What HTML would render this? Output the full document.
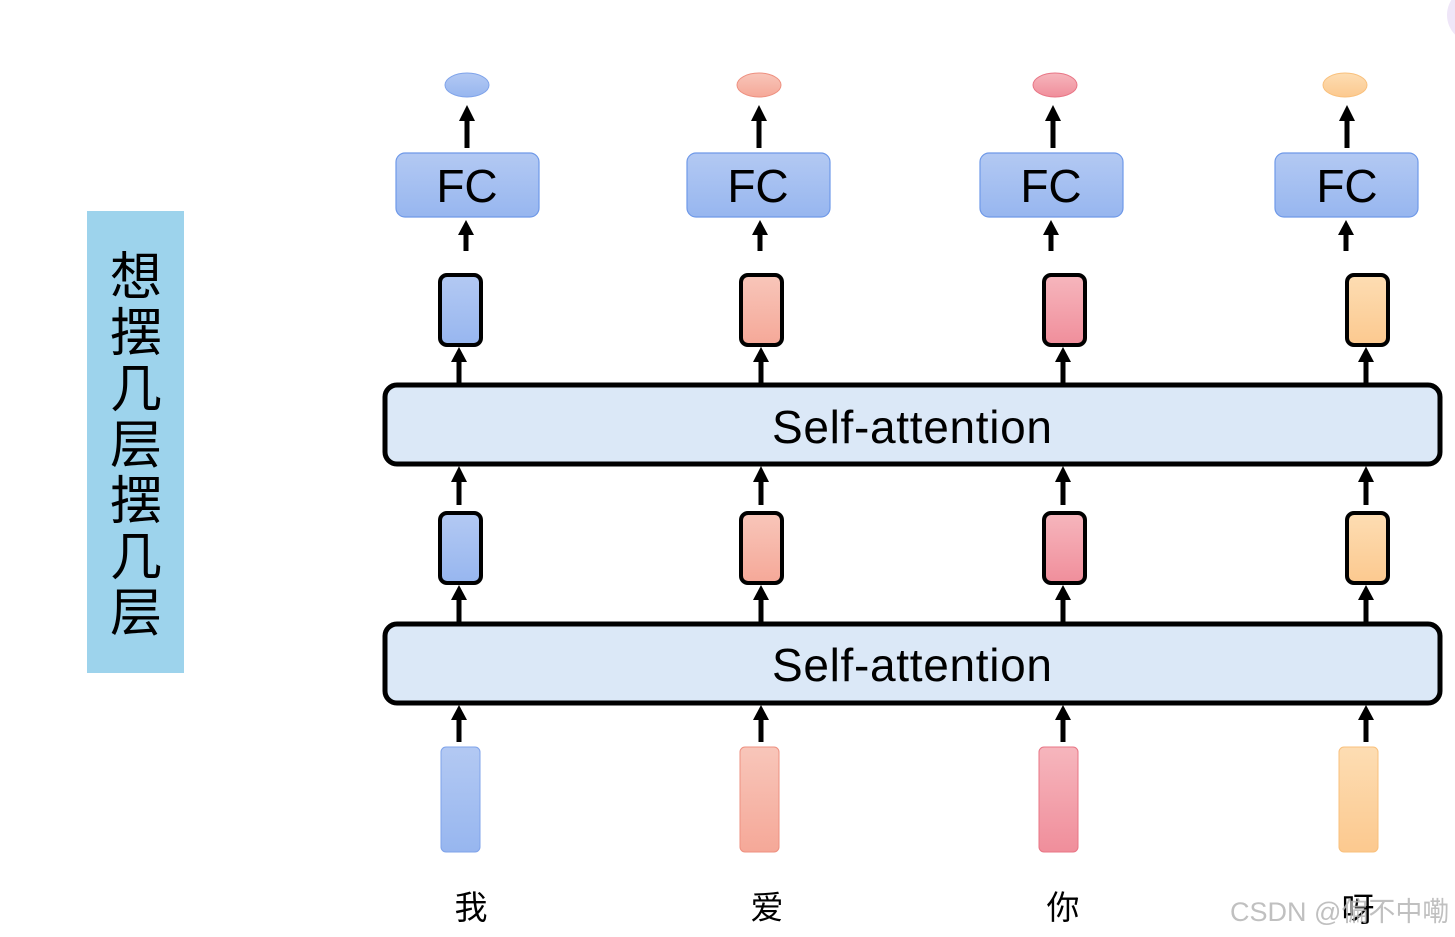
<!DOCTYPE html>
<html><head><meta charset="utf-8"><style>
html,body{margin:0;padding:0;background:#fff;}
svg{display:block;}
</style></head><body>
<svg width="1455" height="937" viewBox="0 0 1455 937" xmlns="http://www.w3.org/2000/svg">
<defs>
<linearGradient id="gb" x1="0" y1="0" x2="0" y2="1"><stop offset="0" stop-color="#b3c9f3"/><stop offset="1" stop-color="#97b6ef"/></linearGradient>
<linearGradient id="gs" x1="0" y1="0" x2="0" y2="1"><stop offset="0" stop-color="#f8c6ba"/><stop offset="1" stop-color="#f5a898"/></linearGradient>
<linearGradient id="gp" x1="0" y1="0" x2="0" y2="1"><stop offset="0" stop-color="#f6b6bd"/><stop offset="1" stop-color="#f08e9b"/></linearGradient>
<linearGradient id="go" x1="0" y1="0" x2="0" y2="1"><stop offset="0" stop-color="#fdddb3"/><stop offset="1" stop-color="#fcc98f"/></linearGradient>
<marker id="ah" viewBox="0 0 16 15" refX="8" refY="0" markerWidth="16" markerHeight="15" markerUnits="userSpaceOnUse" orient="auto-start-reverse"></marker>
</defs>
<circle cx="1475" cy="15" r="28" fill="#efe6f8"/>
<rect x="87" y="211" width="97" height="462" fill="#9dd3ec"/>
<g font-family="'Liberation Sans','Noto Sans CJK SC',sans-serif" font-size="52" text-anchor="middle" fill="#000">
<text x="136" y="295">想</text><text x="136" y="351">摆</text><text x="136" y="407">几</text><text x="136" y="463">层</text><text x="136" y="519">摆</text><text x="136" y="575">几</text><text x="136" y="631">层</text>
</g>
<!-- ellipses -->
<ellipse cx="467" cy="85" rx="22" ry="12" fill="url(#gb)" stroke="#7fa3ea"/>
<ellipse cx="759" cy="85" rx="22" ry="12" fill="url(#gs)" stroke="#ee9080"/>
<ellipse cx="1055" cy="85" rx="22" ry="12" fill="url(#gp)" stroke="#e87585"/>
<ellipse cx="1345" cy="85" rx="22" ry="12" fill="url(#go)" stroke="#f9c07c"/>
<!-- FC boxes -->
<g stroke="#6f99e8" stroke-width="1.2" fill="url(#gb)">
<rect x="396" y="153" width="143" height="64" rx="9"/>
<rect x="687" y="153" width="143" height="64" rx="9"/>
<rect x="980" y="153" width="143" height="64" rx="9"/>
<rect x="1275" y="153" width="143" height="64" rx="9"/>
</g>
<g font-family="'Liberation Sans',sans-serif" font-size="46" text-anchor="middle" fill="#000">
<text x="467" y="202">FC</text><text x="758" y="202">FC</text><text x="1051" y="202">FC</text><text x="1347" y="202">FC</text>
</g>
<!-- self attention -->
<g stroke="#000" stroke-width="5" fill="#dbe8f7">
<rect x="385" y="385" width="1055" height="79" rx="12"/>
<rect x="385" y="624" width="1055" height="79" rx="12"/>
</g>
<g font-family="'Liberation Sans',sans-serif" font-size="46" fill="#000">
<text x="772" y="443" textLength="280">Self-attention</text>
<text x="772" y="681" textLength="280">Self-attention</text>
</g>
<!-- small boxes -->
<g stroke="#000" stroke-width="4">
<rect x="440" y="275" width="41" height="70" rx="7" fill="url(#gb)"/>
<rect x="741" y="275" width="41" height="70" rx="7" fill="url(#gs)"/>
<rect x="1044" y="275" width="41" height="70" rx="7" fill="url(#gp)"/>
<rect x="1347" y="275" width="41" height="70" rx="7" fill="url(#go)"/>
<rect x="440" y="513" width="41" height="70" rx="7" fill="url(#gb)"/>
<rect x="741" y="513" width="41" height="70" rx="7" fill="url(#gs)"/>
<rect x="1044" y="513" width="41" height="70" rx="7" fill="url(#gp)"/>
<rect x="1347" y="513" width="41" height="70" rx="7" fill="url(#go)"/>
</g>
<!-- inputs -->
<rect x="441" y="747" width="39" height="105" rx="5" fill="url(#gb)" stroke="#7fa3ea"/>
<rect x="740" y="747" width="39" height="105" rx="5" fill="url(#gs)" stroke="#ee9080"/>
<rect x="1039" y="747" width="39" height="105" rx="5" fill="url(#gp)" stroke="#e87585"/>
<rect x="1339" y="747" width="39" height="105" rx="5" fill="url(#go)" stroke="#f9c07c"/>
<!-- arrows -->
<g fill="#000">
<!-- arrow helper: shaft + head -->
<!-- top arrows FC->ellipse -->
<g id="a"></g>
</g>
<g stroke="#000" stroke-width="5">
<line x1="467" y1="148" x2="467" y2="118"/><line x1="759" y1="148" x2="759" y2="118"/><line x1="1053" y1="148" x2="1053" y2="118"/><line x1="1347" y1="148" x2="1347" y2="118"/>
<line x1="466" y1="251" x2="466" y2="232"/><line x1="760" y1="251" x2="760" y2="232"/><line x1="1051" y1="251" x2="1051" y2="232"/><line x1="1346" y1="251" x2="1346" y2="232"/>
<line x1="459" y1="383" x2="459" y2="360"/><line x1="761" y1="383" x2="761" y2="360"/><line x1="1063" y1="383" x2="1063" y2="360"/><line x1="1366" y1="383" x2="1366" y2="360"/>
<line x1="459" y1="505" x2="459" y2="480"/><line x1="761" y1="505" x2="761" y2="480"/><line x1="1063" y1="505" x2="1063" y2="480"/><line x1="1366" y1="505" x2="1366" y2="480"/>
<line x1="459" y1="622" x2="459" y2="598"/><line x1="761" y1="622" x2="761" y2="598"/><line x1="1063" y1="622" x2="1063" y2="598"/><line x1="1366" y1="622" x2="1366" y2="598"/>
<line x1="459" y1="742" x2="459" y2="718"/><line x1="761" y1="742" x2="761" y2="718"/><line x1="1063" y1="742" x2="1063" y2="718"/><line x1="1366" y1="742" x2="1366" y2="718"/>
</g>
<g fill="#000">
<path d="M467 105 l-8 16 h16z"/><path d="M759 105 l-8 16 h16z"/><path d="M1053 105 l-8 16 h16z"/><path d="M1347 105 l-8 16 h16z"/>
<path d="M466 220 l-8 15 h16z"/><path d="M760 220 l-8 15 h16z"/><path d="M1051 220 l-8 15 h16z"/><path d="M1346 220 l-8 15 h16z"/>
<path d="M459 347 l-8 15 h16z"/><path d="M761 347 l-8 15 h16z"/><path d="M1063 347 l-8 15 h16z"/><path d="M1366 347 l-8 15 h16z"/>
<path d="M459 466 l-8 16 h16z"/><path d="M761 466 l-8 16 h16z"/><path d="M1063 466 l-8 16 h16z"/><path d="M1366 466 l-8 16 h16z"/>
<path d="M459 585 l-8 15 h16z"/><path d="M761 585 l-8 15 h16z"/><path d="M1063 585 l-8 15 h16z"/><path d="M1366 585 l-8 15 h16z"/>
<path d="M459 705 l-8 15 h16z"/><path d="M761 705 l-8 15 h16z"/><path d="M1063 705 l-8 15 h16z"/><path d="M1366 705 l-8 15 h16z"/>
</g>
<g font-family="'Liberation Sans','Noto Sans CJK SC',sans-serif" font-size="33" text-anchor="middle" fill="#000">
<text x="471" y="919">我</text><text x="767" y="919">爱</text><text x="1063" y="919">你</text><text x="1358" y="921">呀</text>
</g>
<text x="1230" y="921" font-family="'Liberation Sans','Noto Sans CJK SC',sans-serif" font-size="27" fill="#b5b5b5" fill-opacity="0.85">CSDN @偏不中嘞</text>
</svg>
</body></html>
